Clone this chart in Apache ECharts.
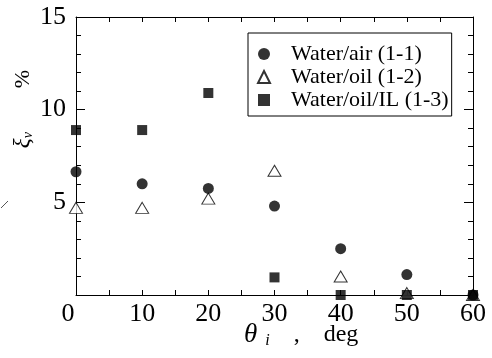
<!DOCTYPE html>
<html>
<head>
<meta charset="utf-8">
<script src="https://cdn.jsdelivr.net/npm/echarts@6/dist/echarts.min.js"></script>
<style>
html,body{margin:0;padding:0;background:#fff;}
#chart{width:492px;height:358px;}
</style>
</head>
<body>
<div id="chart"></div>
<script>
// 入射角 (deg)
var angles = [0, 10, 20, 30, 40, 50, 60];
var seriesNames = ['Water/air (1-1)', 'Water/oil (1-2)', 'Water/oil/IL (1-3)'];
// xi_v, %
var waterAir = [6.65, 6.0, 5.75, 4.8, 2.5, 1.1, 0];
var waterOil = [4.7, 4.7, 5.2, 6.7, 1.0, 0.1, 0];
var waterOilIL = [8.9, 8.9, 10.9, 0.95, 0, 0, 0];
var xTicks = [0, 10, 20, 30, 40, 50, 60];
var yTicks = [0, 5, 10, 15];

var font = 'Liberation Serif';

function pairs(vals){
	var out = [];
	for (var i = 0; i < angles.length; i++) out.push([angles[i], vals[i]]);
	return out;
}

var myChart = echarts.init(document.getElementById('chart'));

var axisX = {
	type: 'value',
	min: xTicks[0],
	max: xTicks[xTicks.length - 1],
	interval: 10,
	axisLine: {show: true, onZero: false, lineStyle: {color: '#000', width: 1}},
	axisTick: {show: true, inside: true, length: 5, lineStyle: {color: '#000'}},
	minorTick: {show: true, splitNumber: 2, length: 5, lineStyle: {color: '#000'}},
	splitLine: {show: false},
	axisLabel: {show: true, color: '#000', fontFamily: font, fontSize: 26, margin: 6,
		formatter: function(v){ return v === 0 ? '{z|0}' : String(v); },
		rich: {z: {fontFamily: font, fontSize: 26, color: '#000', padding: [0, 16, 0, 0]}}
	}
};
var axisY = {
	type: 'value',
	min: yTicks[0],
	max: yTicks[yTicks.length - 1],
	interval: 5,
	axisLine: {show: true, onZero: false, lineStyle: {color: '#000', width: 1}},
	axisTick: {show: true, inside: true, length: 9, lineStyle: {color: '#000'}},
	minorTick: {show: true, splitNumber: 5, length: 5, lineStyle: {color: '#000'}},
	splitLine: {show: false},
	axisLabel: {show: true, color: '#000', fontFamily: font, fontSize: 26, margin: 10,
		formatter: function(v){ return v === 0 ? '' : String(v); }
	}
};

var option = {
	backgroundColor: '#fff',
	animation: false,
	grid: {left: 76, top: 17, right: 19, bottom: 63, show: false},
	xAxis: [
		axisX,
		echarts.util.merge({position: 'top', axisLabel: {show: false}}, axisX)
	],
	yAxis: [
		axisY,
		echarts.util.merge({position: 'right', axisLabel: {show: false}}, axisY)
	],
	legend: {
		left: 248,
		top: 33,
		orient: 'vertical',
		backgroundColor: '#fff',
		borderColor: '#000',
		borderWidth: 1,
		padding: [10, 3, 5, 9],
		itemGap: 1,
		itemWidth: 12,
		itemHeight: 12,
		textStyle: {fontFamily: font, fontSize: 22, color: '#000', lineHeight: 22, padding: [0, 0, 0, 16]},
		data: [
			{name: seriesNames[0], icon: 'circle'},
			{name: seriesNames[1], icon: 'triangle'},
			{name: seriesNames[2], icon: 'rect'}
		]
	},
	graphic: [
		{
			type: 'text', left: 244, top: 321,
			style: {
				text: '{t|θ}{s|i}{n|    ,    deg}',
				rich: {
					t: {fontFamily: font, fontSize: 27, fontStyle: 'italic', fill: '#000'},
					s: {fontFamily: font, fontSize: 16, fontStyle: 'italic', fill: '#000', padding: [12, 0, 0, 8]},
					n: {fontFamily: font, fontSize: 24, fill: '#000'}
				}
			}
		},
		{
			type: 'text', x: 23, y: 109, rotation: Math.PI / 2,
			style: {
				text: '{t|ξ}{s|ν}{n|        %}',
				align: 'center', verticalAlign: 'middle',
				rich: {
					t: {fontFamily: font, fontSize: 23, fontStyle: 'italic', fill: '#000'},
					s: {fontFamily: font, fontSize: 14, fontStyle: 'italic', fill: '#000', padding: [10, 0, 0, 0]},
					n: {fontFamily: font, fontSize: 22, fill: '#000'}
				}
			}
		},
		{
			type: 'line', shape: {x1: 1, y1: 208, x2: 8, y2: 201},
			style: {stroke: '#555', lineWidth: 1}
		}
	],
	series: [
		{
			name: seriesNames[0], type: 'scatter', symbol: 'circle', symbolSize: 11, z: 3,
			itemStyle: {color: '#000'},
			data: pairs(waterAir)
		},
		{
			name: seriesNames[1], type: 'scatter', symbol: 'triangle', symbolSize: [13, 11], z: 2,
			itemStyle: {color: '#fff', borderColor: '#000', borderWidth: 1},
			data: pairs(waterOil)
		},
		{
			name: seriesNames[2], type: 'scatter', symbol: 'rect', symbolSize: 10, z: 4,
			itemStyle: {color: '#000'},
			data: pairs(waterOilIL)
		}
	]
};
myChart.setOption(option);
</script>
</body>
</html>
